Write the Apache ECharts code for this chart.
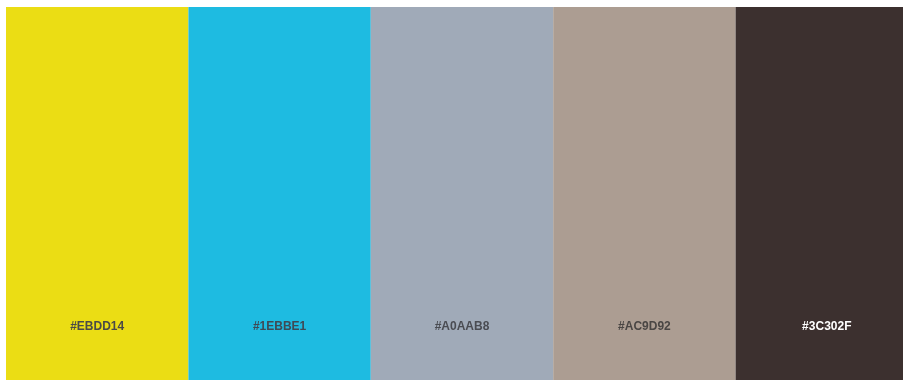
<!DOCTYPE html>
<html>
<head>
<meta charset="utf-8">
<script src="https://cdn.jsdelivr.net/npm/echarts@6/dist/echarts.min.js"></script>
<style>
html,body{margin:0;padding:0;background:#ffffff;}
#chart{width:903px;height:380px;}
</style>
</head>
<body>
<div id="chart"></div>
<script>
const swatchLabels = ['#EBDD14', '#1EBBE1', '#A0AAB8', '#AC9D92', '#3C302F'];
const swatchColors = ['#EBDD14', '#1EBBE1', '#A0AAB8', '#AC9D92', '#3C302F'];
const swatchValues = [1, 1, 1, 1, 1];
const labelColors = ['#4a4a48', '#3f4a55', '#4a4c52', '#4a4644', '#ffffff'];

const chart = echarts.init(document.getElementById('chart'), null, {renderer: 'canvas'});
chart.setOption({
  animation: false,
  backgroundColor: '#ffffff',
  grid: {left: 6, top: 7, width: 912, height: 376, containLabel: false, outerBoundsMode: 'none'},
  xAxis: {
    type: 'category',
    data: swatchLabels,
    show: false,
    boundaryGap: true
  },
  yAxis: {type: 'value', min: 0, max: 1, show: false},
  series: [{
    type: 'bar',
    barCategoryGap: '0%',
    barWidth: '100%',
    data: swatchValues.map((v, i) => ({
      value: v,
      itemStyle: {color: swatchColors[i]},
      label: {color: labelColors[i]}
    })),
    label: {
      show: true,
      position: ['50%', 320],
      align: 'center',
      verticalAlign: 'middle',
      formatter: p => swatchLabels[p.dataIndex],
      fontFamily: 'Liberation Sans, Arial, sans-serif',
      fontWeight: 'bold',
      fontSize: 12
    }
  }]
});
</script>
</body>
</html>
